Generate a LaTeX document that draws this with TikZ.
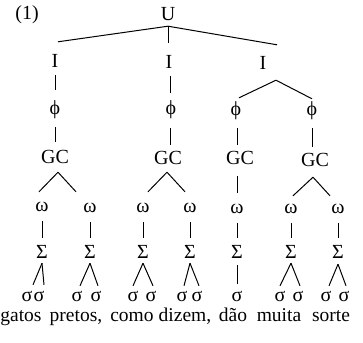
\documentclass[tikz,border=0pt]{standalone}
\usepackage{fontspec}
\setmainfont{Liberation Serif}
\usetikzlibrary{calc}
\begin{document}
\begin{tikzpicture}[x=1pt,y=-1pt,
  lab/.style={anchor=base, inner sep=0pt, text height=13pt, text depth=0pt,
              font=\fontsize{20}{23}\selectfont},
  wordlab/.style={anchor=base, inner sep=0pt, text height=9pt, text depth=0pt,
              font=\fontsize{19.5}{23}\selectfont},
  br/.style={line width=1pt}]
\useasboundingbox (0,0) rectangle (363,342);

% labels of the prosodic tree
\node[lab] (ex) at (27,20) {(1)};
\node[lab] (U) at (168,21) {U};

\node[lab] (I1) at (55,68) {I};
\node[lab] (I2) at (169,69) {I};
\node[lab] (I3) at (263,70) {I};

\node[lab] (p1) at (55,114) {ϕ};
\node[lab] (p2) at (171,114) {ϕ};
\node[lab] (p3) at (236,115) {ϕ};
\node[lab] (p4) at (312,115) {ϕ};

\node[lab] (G1) at (55,163) {GC};
\node[lab] (G2) at (168,164) {GC};
\node[lab] (G3) at (240,164) {GC};
\node[lab] (G4) at (315,166) {GC};

\node[lab] (w1) at (42,211) {ω};
\node[lab] (w2) at (90,212) {ω};
\node[lab] (w3) at (143,212) {ω};
\node[lab] (w4) at (190,212) {ω};
\node[lab] (w5) at (237,213) {ω};
\node[lab] (w6) at (291,213) {ω};
\node[lab] (w7) at (338,213) {ω};

\node[lab] (S1) at (42,258) {Σ};
\node[lab] (S2) at (90,258) {Σ};
\node[lab] (S3) at (143,258) {Σ};
\node[lab] (S4) at (190,258) {Σ};
\node[lab] (S5) at (237,258) {Σ};
\node[lab] (S6) at (291,258) {Σ};
\node[lab] (S7) at (338,258) {Σ};

\node[lab] (s1a) at (27,301) {σ};
\node[lab] (s1b) at (39,301) {σ};
\node[lab] (s2a) at (77,301) {σ};
\node[lab] (s2b) at (96,301) {σ};
\node[lab] (s3a) at (133,301) {σ};
\node[lab] (s3b) at (151,301) {σ};
\node[lab] (s4a) at (182,301) {σ};
\node[lab] (s4b) at (197,301) {σ};
\node[lab] (s5) at (237,301) {σ};
\node[lab] (s6a) at (280,301) {σ};
\node[lab] (s6b) at (298,301) {σ};
\node[lab] (s7a) at (326,301) {σ};
\node[lab] (s7b) at (344,301) {σ};

% the words of the sentence
\node[wordlab] (t1) at (21,321) {gatos};
\node[wordlab] (t2) at (76,321) {pretos,};
\node[wordlab] (t3) at (132,321) {como};
\node[wordlab] (t4) at (185,321) {dizem,};
\node[wordlab] (t5) at (233,321) {dão};
\node[wordlab] (t6) at (279,321) {muita};
\node[wordlab] (t7) at (331,321) {sorte};

% U -> I
\draw[br] ($(U.south)+(0,5)$) -- ($(I1.north)+(3,-13)$);
\draw[br] ($(U.south)+(0,5)$) -- ($(I2.north)+(-1,-13)$);
\draw[br] ($(U.south)+(0,5)$) -- ($(I3.north)+(14,-12)$);

% I -> phi
\draw[br] ($(I1.south)+(0,7)$) -- ($(p1.north)+(0,-11)$);
\draw[br] ($(I2.south)+(1,7)$) -- ($(p2.north)+(-1,-8)$);
\draw[br] ($(I3.south)+(13,10)$) -- ($(p3.north)+(3,-4)$);
\draw[br] ($(I3.south)+(13,10)$) -- ($(p4.north)+(0,-3)$);

% phi -> GC
\draw[br] ($(p1.south)+(0,13)$) -- ($(G1.north)+(0,-8)$);
\draw[br] ($(p2.south)+(-1,14)$) -- ($(G2.north)+(2,-6)$);
\draw[br] ($(p3.south)+(1,13)$) -- ($(G3.north)+(-3,-6)$);
\draw[br] ($(p4.south)+(0,13)$) -- ($(G4.north)+(-3,-6)$);

% GC -> omega
\draw[br] ($(G1.south)+(3,9)$) -- ($(w1.north)+(-3,-6)$);
\draw[br] ($(G1.south)+(3,9)$) -- ($(w2.north)+(-14,-7)$);
\draw[br] ($(G2.south)+(-1,8)$) -- ($(w3.north)+(5,-7)$);
\draw[br] ($(G2.south)+(-1,8)$) -- ($(w4.north)+(-5,-7)$);
\draw[br] ($(G3.south)+(-3,12)$) -- ($(w5.north)+(0,-7)$);
\draw[br] ($(G4.south)+(-2,11)$) -- ($(w6.north)+(2,-4)$);
\draw[br] ($(G4.south)+(-2,11)$) -- ($(w7.north)+(-8,-4)$);

% omega -> Sigma
\foreach \i in {1,...,7}
  \draw[br] ($(w\i.south)+(0,10)$) -- ($(S\i.north)+(0,-7)$);

% Sigma -> sigma
\draw[br] ($(S1.south)+(0,5)$) -- ($(s1a.north)+(6,-3)$);
\draw[br] ($(S1.south)+(0,5)$) -- ($(s1b.north)+(5,-3)$);
\draw[br] ($(S2.south)+(0,5)$) -- ($(s2a.north)+(3,-2)$);
\draw[br] ($(S2.south)+(0,5)$) -- ($(s2b.north)+(2,-2)$);
\draw[br] ($(S3.south)+(0,5)$) -- ($(s3a.north)+(0,-2)$);
\draw[br] ($(S3.south)+(0,5)$) -- ($(s3b.north)+(2,-2)$);
\draw[br] ($(S4.south)+(0,5)$) -- ($(s4a.north)+(2,-2)$);
\draw[br] ($(S4.south)+(0,5)$) -- ($(s4b.north)+(2,-2)$);
\draw[br] ($(S5.south)+(0,7)$) -- ($(s5.north)+(0,-4)$);
\draw[br] ($(S6.south)+(0,5)$) -- ($(s6a.north)+(0,-2)$);
\draw[br] ($(S6.south)+(0,5)$) -- ($(s6b.north)+(2,-2)$);
\draw[br] ($(S7.south)+(0,6)$) -- ($(s7a.north)+(3,-2)$);
\draw[br] ($(S7.south)+(0,6)$) -- ($(s7b.north)+(2,-2)$);
\end{tikzpicture}
\end{document}
